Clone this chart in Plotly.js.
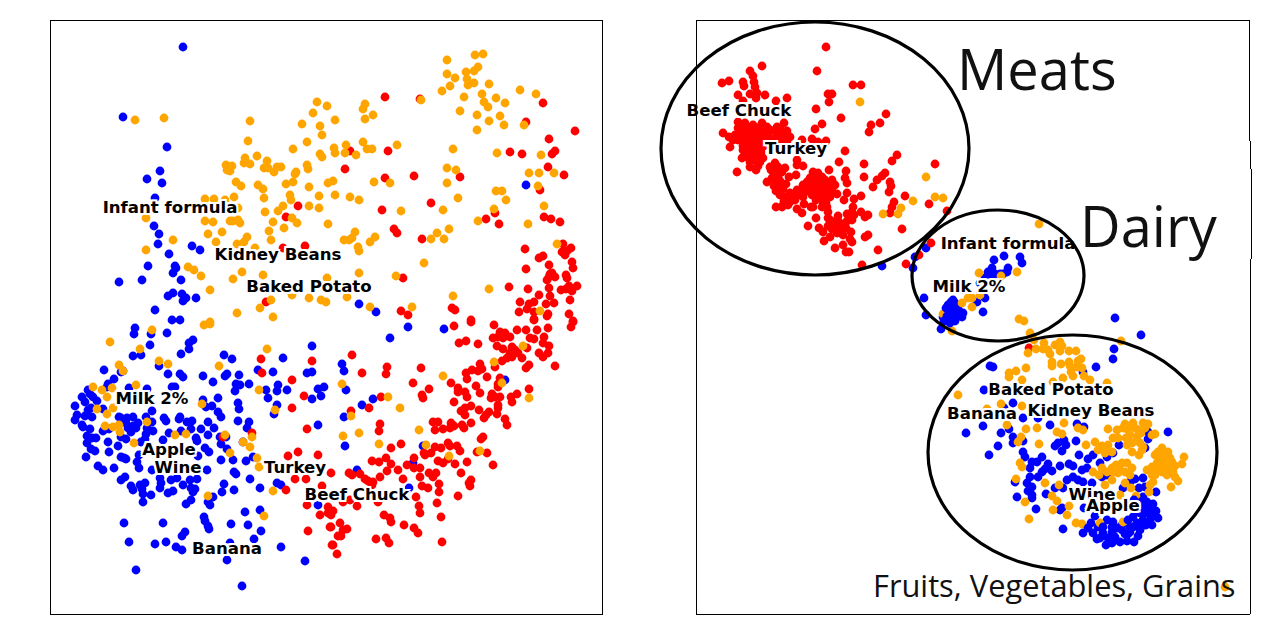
<!DOCTYPE html>
<html>
<head>
<meta charset="utf-8">
<script src="https://cdn.plot.ly/plotly-3.0.1.min.js"></script>
<style>html,body{margin:0;padding:0;background:#fff}</style>
</head>
<body>
<div id="myDiv" style="width:1280px;height:640px"></div>
<script>
var leftBlue = [[183,47],[123,117],[167,147],[160,171],[147,179],[162,183],[155,198],[154,226],[159,234],[158,244],[192,246],[200,250],[169,254],[148,266],[175,266],[176,268],[173,273],[119,282],[142,280],[181,280],[168,296],[173,293],[182,294],[186,298],[183,301],[196,298],[155,310],[172,320],[180,320],[526,185],[359,304],[376,312],
[135,328],[134,334],[151,334],[167,333],[150,345],[193,340],[189,343],[189,349],[181,354],[133,356],[141,355],[224,355],[232,359],[312,346],[283,358],[159,366],[104,370],[121,372],[123,371],[114,379],[168,374],[180,374],[183,377],[203,376],[213,382],[225,376],[227,374],[239,375],[258,370],[273,372],[307,373],[312,372],[108,384],[107,387],[236,384],[240,385],[249,384],[235,391],[278,385],[266,390],[277,391],[287,390],[268,398],[318,389],[324,387],[321,396],[312,399],[88,390],[90,394],[93,397],[82,397],[97,401],[85,402],[129,388],[147,389],[172,387],[175,387],[203,400],[218,398],[238,403],[75,406],[91,408],[88,410],[103,409],[206,407],[212,406],[218,412],[239,409],[277,405],[274,414],[77,415],[85,416],[92,417],[75,420],[119,417],[127,418],[133,417],[146,417],[152,411],[164,418],[166,421],[180,417],[179,419],[221,417],[238,421],[249,422],[82,425],[83,427],[90,429],[121,418],[126,423],[138,423],[133,426],[128,428],[152,422],[192,421],[187,422],[208,422],[318,425],[103,431],[109,429],[131,432],[136,428],[147,428],[153,431],[191,429],[201,429],[214,428],[247,428],[146,434],[181,431],[169,433],[208,435],[87,436],[96,438],[92,438],[121,437],[126,439],[145,439],[163,440],[196,438],[197,441],[220,437],[226,437],[87,443],[108,442],[118,446],[141,442],[221,444],[91,449],[95,451],[109,452],[205,448],[209,452],[227,449],[243,442],[86,457],[121,457],[124,458],[126,459],[139,455],[137,462],[198,456],[221,460],[233,460],[246,461],[253,457],[98,466],[103,470],[114,468],[139,468],[152,470],[207,470],[234,472],[236,474],[250,479],[125,477],[121,480],[160,478],[171,480],[177,478],[190,480],[197,479],[277,483],[281,485],[131,486],[133,490],[140,485],[145,483],[142,489],[161,483],[160,488],[183,485],[191,488],[195,489],[193,492],[224,484],[234,490],[260,488],[143,494],[151,495],[143,502],[168,493],[173,491],[222,492],[213,497],[191,500],[186,504],[208,502],[210,505],[245,512],[260,510],[204,517],[205,521],[124,523],[163,523],[208,526],[209,529],[231,524],[248,525],[261,531],[185,532],[182,536],[129,542],[155,544],[166,542],[176,547],[182,550],[254,539],[281,547],[230,543],[227,560],[305,561],[136,570],[242,586],[318,505],
[408,327],[444,329],[390,338],[342,364],[344,371],[346,390],[373,399],[362,405],[344,417],[345,446],[423,446],[413,463],[357,470],[409,488],[505,380]];

var leftRed = [[298,206],[286,217],[305,246],[283,248],[266,302],
[385,97],[420,99],[543,103],[526,122],[575,131],[549,139],[555,151],[552,154],[510,152],[522,154],[350,151],[388,151],[345,169],[548,167],[564,175],[385,178],[414,176],[460,177],[540,190],[431,203],[382,210],[495,213],[486,219],[499,224],[544,217],[551,219],[560,222],[394,229],[397,233],[422,239],[525,249],[563,244],[571,248],[567,251],[562,252],[565,255],[543,256],[539,258],[572,262],[549,265],[573,268],[526,269],[550,274],[555,277],[566,275],[567,278],[547,280],[403,278],[549,288],[509,287],[528,289],[577,286],[569,286],[561,290],[572,291],[566,289],[539,295],[550,296],[570,300],[520,302],[534,302],[529,304],[546,304],[554,303],[452,308],[455,310],[401,311],[408,315],[519,312],[527,309],[534,312],[548,314],[569,314],[547,316],[471,320],[534,319],[573,321],[549,277],[552,273],
[261,359],[312,361],[262,373],[292,380],[304,396],[292,408],[307,429],[252,433],[223,437],[288,456],[298,452],[318,455],[295,479],[306,479],[286,490],[322,486],[307,505],[320,515],[308,531],[332,545],[330,527],[328,507],[328,513],
[454,326],[471,322],[494,325],[500,332],[505,333],[517,330],[526,330],[537,330],[548,328],[573,322],[571,327],[534,320],[493,338],[498,337],[503,338],[510,337],[530,338],[534,339],[544,337],[459,343],[466,341],[478,344],[497,346],[503,349],[512,347],[543,343],[549,346],[527,348],[515,350],[510,353],[518,353],[512,357],[507,358],[502,361],[522,358],[539,353],[543,357],[548,353],[352,355],[555,366],[529,365],[526,368],[495,367],[480,364],[482,369],[478,371],[472,370],[466,373],[467,379],[487,377],[387,367],[386,374],[362,373],[421,368],[413,383],[451,383],[500,378],[498,384],[498,387],[476,386],[429,389],[458,388],[458,392],[465,392],[480,393],[467,397],[529,389],[517,394],[511,397],[512,402],[422,395],[423,398],[381,397],[492,394],[491,398],[495,397],[500,397],[454,402],[471,406],[465,408],[461,411],[465,415],[479,410],[498,405],[498,408],[489,412],[486,415],[484,418],[497,414],[369,408],[351,411],[505,419],[507,425],[433,422],[438,422],[471,423],[462,425],[464,428],[451,423],[454,426],[450,428],[443,429],[435,430],[380,424],[379,431],[483,437],[481,439],[448,443],[450,446],[457,446],[460,451],[487,453],[477,452],[435,447],[441,448],[401,444],[391,448],[424,453],[425,455],[431,453],[386,458],[372,461],[379,462],[414,458],[438,461],[443,463],[448,459],[455,464],[467,462],[493,465],[391,464],[407,465],[414,468],[420,468],[398,470],[387,471],[461,473],[429,473],[436,473],[433,477],[420,477],[349,473],[352,475],[360,474],[331,473],[380,477],[403,479],[365,479],[368,481],[373,482],[372,485],[471,480],[469,483],[470,486],[439,484],[422,486],[428,488],[439,492],[458,496],[416,497],[437,503],[419,506],[420,513],[441,517],[384,515],[390,518],[391,522],[404,525],[414,528],[418,533],[376,539],[386,538],[389,543],[442,542],[343,502],[350,500],[357,506],[378,502],[333,511],[331,515],[340,523],[331,527],[343,530],[347,529],[338,536],[341,536],[333,545],[337,554]];

var leftOrange = [[135,120],[164,118],[250,121],[248,141],[317,102],[327,106],[313,113],[302,124],[320,126],[322,135],[307,142],[293,149],[320,154],[322,157],[257,156],[245,158],[244,163],[250,164],[267,161],[226,165],[232,166],[227,170],[230,171],[264,168],[268,168],[274,172],[277,167],[281,167],[307,165],[308,169],[296,172],[295,174],[236,182],[241,186],[258,185],[263,189],[286,184],[293,182],[309,187],[328,183],[234,197],[264,198],[290,195],[291,200],[319,196],[205,199],[214,199],[225,200],[238,208],[283,206],[309,206],[319,208],[265,212],[278,211],[146,218],[205,221],[213,222],[230,221],[233,221],[238,220],[240,223],[273,222],[292,218],[297,223],[328,224],[284,228],[269,231],[208,234],[222,232],[247,237],[173,240],[271,240],[216,242],[237,244],[244,242],[146,250],[255,248],[188,267],[194,270],[201,276],[242,272],[263,275],[233,279],[327,278],[210,290],[309,298],[321,300],[326,302],[271,300],[260,308],[237,313],[273,317],[210,322],[292,295],
[475,55],[483,54],[447,60],[478,67],[474,71],[466,72],[447,74],[455,78],[467,79],[474,83],[468,85],[489,84],[450,86],[442,91],[464,97],[482,94],[496,98],[484,102],[488,107],[505,103],[460,111],[477,115],[500,116],[489,121],[504,125],[477,130],[520,90],[536,94],[524,125],[421,100],[365,104],[363,109],[365,119],[373,115],[335,120],[363,142],[346,145],[334,148],[335,153],[345,153],[356,155],[367,149],[372,149],[397,145],[453,149],[497,153],[541,155],[447,168],[456,170],[447,183],[529,173],[539,173],[554,173],[538,186],[333,181],[374,182],[390,183],[335,195],[350,197],[359,200],[458,198],[496,191],[502,191],[506,200],[544,206],[401,211],[443,210],[494,209],[478,221],[528,224],[355,232],[344,240],[349,240],[352,238],[375,237],[370,242],[358,247],[359,251],[437,233],[449,229],[431,239],[444,239],[424,263],[359,273],[396,276],[489,289],[453,296],[370,307],[412,307],[557,244],[540,311],[347,297],
[152,330],[110,342],[140,349],[204,325],[210,324],[267,349],[159,361],[168,364],[119,365],[219,366],[93,387],[102,390],[112,388],[136,385],[107,397],[259,390],[202,404],[97,409],[113,408],[107,414],[275,410],[105,426],[113,427],[119,425],[120,432],[147,422],[175,435],[186,434],[225,435],[252,437],[134,443],[243,442],[250,447],[230,453],[257,458],[259,467],[273,491],[208,496],[264,516],[123,371],
[523,346],[494,362],[443,376],[502,383],[388,397],[529,398],[400,408],[351,416],[342,384],[419,430],[359,433],[343,436],[379,444],[426,445],[449,456],[480,451]];

var rightRed = [[826,47],[762,66],[817,71],[750,71],[753,76],[722,83],[729,81],[743,82],[754,82],[744,86],[755,87],[853,85],[861,85],[738,95],[750,94],[757,93],[765,95],[756,98],[828,94],[832,94],[787,98],[776,101],[829,102],[743,101],[816,109],[841,118],[886,114],[880,123],[871,125],[869,132],[822,124],[815,129],
[738,122],[745,123],[753,125],[762,123],[767,127],[777,127],[784,123],[723,133],[729,137],[733,140],[730,147],[742,137],[747,133],[752,132],[757,135],[763,133],[768,135],[778,135],[785,135],[790,137],[748,140],[753,142],[758,140],[765,142],[743,150],[750,148],[755,148],[760,148],[753,153],[758,155],[742,158],[747,157],[750,162],[755,160],[760,162],[750,167],[756,170],[758,166],[737,172],
[802,140],[812,139],[818,142],[826,141],[845,151],[897,155],[892,161],[839,162],[864,164],[935,164],
[770,167],[775,163],[778,167],[782,172],[775,173],[778,177],[797,160],[797,165],[803,166],[789,177],[796,175],[767,182],[776,182],[778,187],[786,184],[776,191],[780,195],[785,197],[790,193],[797,190],[803,185],[807,182],[815,177],[818,173],[822,177],[829,170],[815,183],[820,182],[825,180],[832,180],[835,185],[820,187],[825,188],[817,190],[822,193],[805,192],[803,197],[795,200],[790,202],[783,205],[776,207],[782,207],[788,205],[804,204],[797,209],[802,213],[811,207],[813,207],[822,207],[827,198],[830,197],[832,193],[837,194],[847,193],[823,202],[827,207],[828,212],[844,200],[854,199],[861,196],[846,171],[845,178],[847,183],[864,177],[873,187],[877,180],[882,176],[885,173],[890,182],[891,186],[889,192],[905,196],[894,202],[892,207],[890,213],[929,204],[947,211],[853,207],[861,212],[868,215],[865,217],[847,214],[854,215],[852,220],[847,221],[816,218],[808,226],[819,228],[823,232],[830,220],[833,224],[828,226],[837,227],[845,224],[842,229],[837,233],[843,235],[851,232],[830,237],[824,241],[850,239],[852,242],[865,237],[868,235],[902,229],[835,248],[843,245],[846,252],[849,252],[878,250],[862,265],[906,264],[919,255],[931,243],[1029,348]];
// where the dots merge into a solid patch
var rightRedPatch = [[740,126],[746,128],[750,128],[756,129],[760,127],[765,131],[770,130],[775,131],[781,130],[787,131],[738,128],[742,131],[749,136],[754,138],[760,137],[766,138],[772,139],[780,141],[787,141],[744,143],[749,144],[755,145],[760,144],[764,146],[745,153],[750,156],[755,152],[761,152],[763,158],[746,145],[752,158],[748,152],[743,146],[738,140],[735,135],[771,170],[774,168],[780,170],[785,168],[772,178],[780,181],[783,189],[774,186],[788,198],[792,198],[784,201],[796,195],[800,191],[806,187],[812,186],[810,178],[813,172],[818,180],[822,184],[828,185],[832,188],[826,193],[820,197],[815,193],[812,195],[826,203],[816,200],[810,190],[834,222],[839,222],[841,233],[835,229],[832,229],[846,228],[838,216],[828,218],[852,212]];

var rightBlue = [[882,266],[926,248],[915,257],[913,268],[1004,256],[1020,257],[1022,263],[994,260],[992,268],[988,272],[1008,268],[1007,272],[1000,274],[995,274],[990,275],[1003,274],[985,278],[980,283],[985,298],[977,302],[983,312],[924,298],[926,315],[941,329],
[953,300],[955,303],[950,307],[958,307],[947,312],[953,310],[960,312],[963,313],[943,317],[950,315],[957,317],[962,317],[948,321],[945,318],[953,318],
[1115,318],[1141,335],[1114,349],[1113,359],[1096,367],[990,366],[993,367],[984,390],[1083,372],
[1013,403],[1004,408],[1023,418],[1038,418],[1050,425],[1077,424],[1084,427],[983,426],[966,433],[1001,433],[1009,429],[1013,437],[1023,441],[1013,443],[998,446],[989,455],[1076,441],[1064,440],[1058,443],[1055,446],[1062,451],[1066,445],[1168,432],[1148,432],[1148,439],[1119,445],[1145,448],[1023,452],[1025,457],[1042,457],[1079,455],[1093,455],[1088,459],[1113,453],[1107,457],[1100,463],[1032,462],[1037,462],[1030,468],[1048,464],[1045,469],[1052,471],[1042,472],[1060,466],[1069,464],[1073,466],[1082,470],[1087,468],[1030,477],[1038,477],[1015,482],[1027,483],[1032,487],[1028,491],[1067,480],[1073,477],[1078,480],[1083,482],[1092,483],[1102,477],[1107,475],[1130,482],[1135,479],[1143,478],[1055,488],[1063,488],[1123,488],[1139,488],[1145,487],[1156,492],[1032,495],[1046,494],[1017,497],[1032,498],[1036,509],[1060,510],[1062,508],
[1143,497],[1147,502],[1150,507],[1143,507],[1156,511],[1148,513],[1158,518],[1140,513],[1133,517],[1143,520],[1150,520],[1146,525],[1137,523],[1130,527],[1122,525],[1107,520],[1113,522],[1091,523],[1098,527],[1130,532],[1138,536],[1122,530],[1083,533],[1093,533],[1103,533],[1112,532],[1097,539],[1108,538],[1115,537],[1120,542],[1127,541],[1134,542],[1106,545],[1063,529],[1095,516],[1084,508]];
var rightBluePatch = [[948,305],[951,302],[956,310],[952,313],[947,316],[944,321],[950,323],[955,321],[959,315],[946,308],[952,306],[1136,505],[1141,502],[1153,504],[1147,510],[1152,514],[1135,512],[1128,520],[1140,530],[1133,527],[1125,534],[1117,528],[1103,527],[1112,527],[1088,528],[1100,538],[1112,543],[1142,526],[1128,534],[1152,525],[1144,513],[1134,500]];

var rightOrange = [[860,102],[926,177],[913,201],[935,197],[943,198],[901,208],[883,214],[898,214],
[1039,224],[979,273],[1017,272],[1001,276],[968,298],[972,298],[980,295],[972,307],[962,303],[943,314],[952,331],[1019,319],[1024,321],[1030,333],[1034,340],[1121,341],[1044,343],[1055,345],[1060,342],[1062,346],[1036,349],[1043,349],[1048,350],[1028,353],[1050,354],[1060,351],[1069,351],[1076,351],[1052,362],[1052,366],[1061,364],[1069,362],[1078,361],[1081,359],[1070,366],[1077,367],[1082,368],[1071,372],[1073,376],[1084,376],[1090,380],[1026,368],[1016,371],[1009,373],[1009,377],[1063,378],[1022,380],[1013,388],[1107,383],[958,395],[1053,382],
[1001,404],[1022,406],[987,409],[1007,425],[1026,429],[1037,428],[1057,432],[1062,434],[1064,423],[1078,428],[1083,430],[1021,437],[1018,442],[1039,444],[1086,445],[1095,442],[1108,429],[1117,430],[1125,424],[1133,423],[1143,423],[1148,424],[1128,430],[1138,430],[1130,435],[1137,437],[1141,433],[1152,435],[1155,434],[1113,438],[1118,438],[1127,445],[1132,443],[1140,443],[1143,447],[1102,446],[1098,450],[1105,448],[1112,452],[1132,452],[1139,455],[1142,450],[1162,448],[1155,455],[1160,457],[1168,452],[1184,457],[1163,462],[1172,462],[1182,464],[1157,463],[1167,467],[1152,467],[1147,470],[1157,470],[1162,472],[1173,472],[1152,475],[1167,475],[1175,477],[1178,481],[1153,482],[1150,485],[1171,487],[1149,492],[1020,463],[1022,467],[1102,468],[1112,468],[1093,472],[1099,475],[1113,472],[1122,463],[1127,463],[1132,468],[1125,472],[1118,473],[1130,475],[1112,480],[1105,485],[1125,483],[1131,488],[1016,479],[1045,483],[1059,485],[1052,496],[1025,502],[1057,501],[1053,510],[1067,515],[1069,506],[1029,519],[1076,523],[1082,524],[1100,523],[1123,522],[1136,496],[1120,495],[1225,587]];
var rightOrangePatch = [[1158,452],[1163,454],[1170,458],[1165,459],[1175,466],[1160,466],[1155,475],[1162,465],[1168,470],[1135,428],[1130,426],[1123,428],[1145,428],[1126,438],[1105,453],[1108,445],[1120,470],[1107,472],[1116,465]];

var leftLabels = ['Infant formula','Kidney Beans','Baked Potato','Milk 2%','Apple','Wine','Turkey','Beef Chuck','Banana'];
var leftLabelX = [170,278,309,152,169,178,295,357,227];
var leftLabelY = [209,256,288,400,451,469,469,496,550];
var rightLabels = ['Beef Chuck','Turkey','Infant formula','Milk 2%','Baked Potato','Banana','Kidney Beans','Wine','Apple'];
var rightLabelX = [739,796,1008,969,1051,982,1091,1092,1113];
var rightLabelY = [112,150,245,288,391,415,412,496,507];

var BLUE = '#0000ff', RED = '#ff0000', ORANGE = '#ffa500';
var halo = '-2px 0 #fff,2px 0 #fff,0 -2px #fff,0 2px #fff,-2px -2px #fff,2px 2px #fff,-2px 2px #fff,2px -2px #fff';

function dots(pts, color, xa, ya) {
  return {
    x: pts.map(function (p) { return p[0]; }),
    y: pts.map(function (p) { return p[1]; }),
    mode: 'markers',
    type: 'scatter',
    xaxis: xa,
    yaxis: ya,
    hoverinfo: 'skip',
    marker: {color: color, size: 8.8, line: {width: 0}}
  };
}

function names(txt, xs, ys, xa, ya) {
  return {
    x: xs,
    y: ys,
    text: txt,
    mode: 'text',
    type: 'scatter',
    xaxis: xa,
    yaxis: ya,
    cliponaxis: false,
    hoverinfo: 'skip',
    textposition: 'middle center',
    textfont: {family: 'DejaVu Sans', size: 16.6, weight: 'bold', color: '#000', shadow: halo}
  };
}

var data = [
  dots(leftBlue, BLUE, 'x', 'y'),
  dots(leftRed, RED, 'x', 'y'),
  dots(leftOrange, ORANGE, 'x', 'y'),
  names(leftLabels, leftLabelX, leftLabelY, 'x', 'y'),
  dots(rightBlue, BLUE, 'x2', 'y2'),
  dots(rightRed, RED, 'x2', 'y2'),
  dots(rightRedPatch, RED, 'x2', 'y2'),
  dots(rightOrange, ORANGE, 'x2', 'y2'),
  dots(rightOrangePatch, ORANGE, 'x2', 'y2'),
  dots(rightBluePatch, BLUE, 'x2', 'y2'),
  names(rightLabels, rightLabelX, rightLabelY, 'x2', 'y2')
];

// paper refs so the rings are not clipped at the panel edge
function ring(x0, y0, x1, y1) {
  return {type: 'circle', xref: 'paper', yref: 'paper',
    x0: x0 / 1280, y0: 1 - y0 / 640, x1: x1 / 1280, y1: 1 - y1 / 640,
    line: {color: '#000', width: 3.2}, layer: 'above'};
}

// the right edge of the second panel is not quite straight
function edge(x, y0, y1) {
  return {type: 'line', xref: 'paper', yref: 'paper',
    x0: x / 1280, y0: 1 - y0 / 640, x1: x / 1280, y1: 1 - y1 / 640,
    line: {color: '#000', width: 1}};
}

function big(txt, x, y, size) {
  return {text: txt, xref: 'x2', yref: 'y2', x: x, y: y, xanchor: 'left', yanchor: 'middle',
    showarrow: false, font: {family: 'Open Sans', size: size, color: '#111'}};
}

var frame = {showline: true, mirror: true, linecolor: '#000', linewidth: 1,
  showgrid: false, zeroline: false, showticklabels: false, ticks: ''};

var layout = {
  width: 1280,
  height: 640,
  margin: {l: 0, r: 0, t: 0, b: 0},
  paper_bgcolor: '#fff',
  plot_bgcolor: '#fff',
  showlegend: false,
  xaxis: Object.assign({}, frame, {domain: [51 / 1280, 602 / 1280], range: [51, 602]}),
  yaxis: Object.assign({}, frame, {domain: [26 / 640, 619 / 640], range: [614, 21]}),
  xaxis2: Object.assign({}, frame, {domain: [697 / 1280, 1250 / 1280], range: [697, 1250], anchor: 'y2'}),
  yaxis2: Object.assign({}, frame, {domain: [26 / 640, 619 / 640], range: [614, 21], anchor: 'x2', mirror: false}),
  shapes: [
    ring(661, 22, 969, 275), ring(912, 210, 1084, 341), ring(928, 335, 1217, 570),
    edge(1249.5, 21, 141), edge(1250.5, 141, 169), edge(1251.5, 169, 259), edge(1250.5, 259, 614)
  ],
  annotations: [
    big('Meats', 955, 68, 56),
    big('Dairy', 1078, 225, 56),
    big('Fruits, Vegetables, Grains', 871, 585, 30.8)
  ]
};

Plotly.newPlot('myDiv', data, layout, {displayModeBar: false});
</script>
</body>
</html>
